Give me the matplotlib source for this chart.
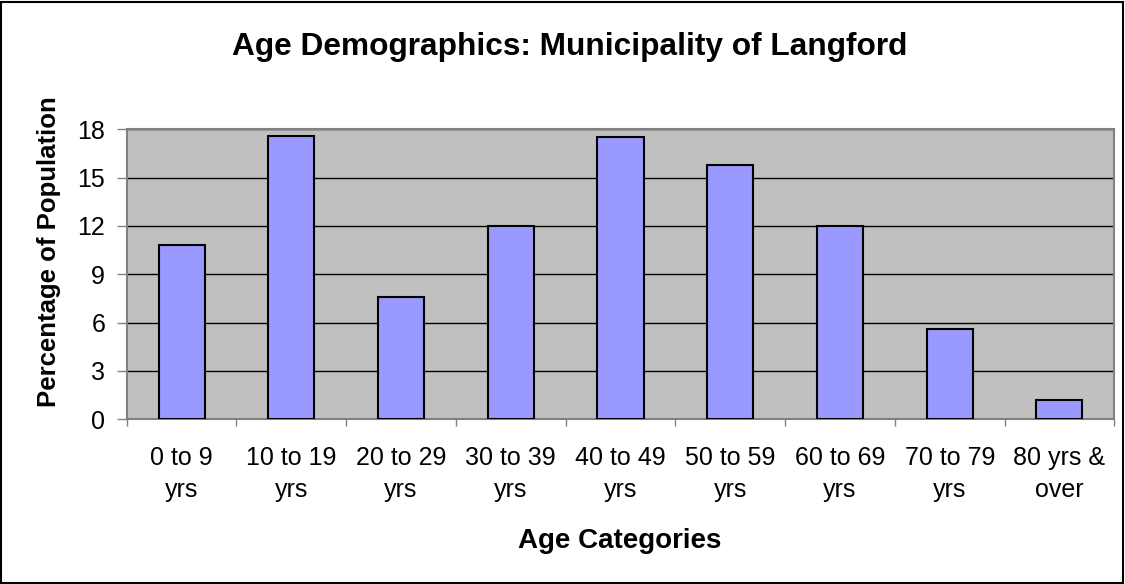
import matplotlib
matplotlib.use("Agg")
import matplotlib.pyplot as plt
from matplotlib.patches import Rectangle

categories = ["0 to 9\nyrs", "10 to 19\nyrs", "20 to 29\nyrs", "30 to 39\nyrs",
              "40 to 49\nyrs", "50 to 59\nyrs", "60 to 69\nyrs", "70 to 79\nyrs",
              "80 yrs &\nover"]
values = [10.8, 17.6, 7.6, 12.0, 17.5, 15.8, 12.0, 5.6, 1.2]
yticks = [0, 3, 6, 9, 12, 15, 18]

plt.rcParams['font.family'] = ['Liberation Sans', 'DejaVu Sans']

W, H = 1125, 584
fig = plt.figure(figsize=(W / 100, H / 100), dpi=100)
fig.patch.set_facecolor('white')
fig.patches.append(Rectangle((0.001, 0.002), 0.997, 0.995, transform=fig.transFigure,
                             fill=False, edgecolor='black', linewidth=1.5))

ax = fig.add_axes([126.7 / W, 1 - 419.3 / H, (1114.3 - 126.7) / W, (419.3 - 129.3) / H])
ax.set_facecolor('#C0C0C0')
x = list(range(len(values)))
ax.bar(x, values, width=0.42, color='#9999FF', edgecolor='black', linewidth=1.5, zorder=3)

ax.set_xlim(-0.5, len(values) - 0.5)
ax.set_ylim(0, 18)
ax.set_yticks(yticks)
ax.set_yticklabels([str(t) for t in yticks])
ax.yaxis.grid(True, color='black', linewidth=1.0, zorder=1)
ax.set_axisbelow(True)

ax.set_xticks(x)
ax.set_xticklabels(categories, linespacing=1.42)
ax.set_xticks([i - 0.5 for i in range(len(values) + 1)], minor=True)
ax.tick_params(axis='x', which='major', length=0, pad=19, labelsize=18)
ax.tick_params(axis='x', which='minor', length=5, width=1, color='#808080', direction='out')
ax.tick_params(axis='y', length=7.5, width=1, color='#808080', direction='out', labelsize=18, pad=8)

for s in ['left', 'bottom', 'top', 'right']:
    ax.spines[s].set_color('#808080')
    ax.spines[s].set_linewidth(1.5)

fig.text(570 / W, 1 - 47 / H, "Age Demographics: Municipality of Langford",
         ha='center', va='center', fontsize=22.8, fontweight='bold')
fig.text(49 / W, 1 - 252 / H, "Percentage of Population", rotation=90,
         ha='center', va='center', fontsize=18.5, fontweight='bold')
fig.text(620 / W, 1 - 541 / H, "Age Categories",
         ha='center', va='center', fontsize=20, fontweight='bold')

fig.savefig("out.png", dpi=100)
